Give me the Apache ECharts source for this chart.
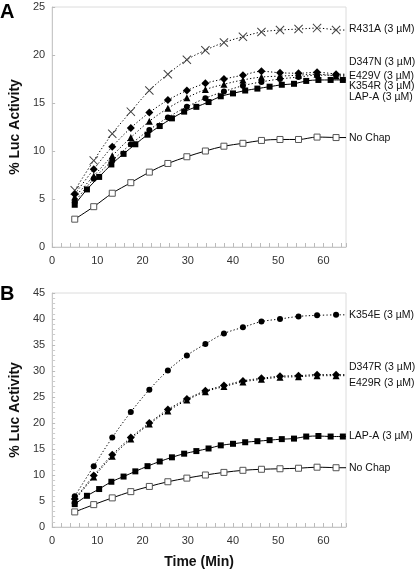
<!DOCTYPE html>
<html><head><meta charset="utf-8">
<script src="https://cdn.jsdelivr.net/npm/echarts@6/dist/echarts.min.js"></script>
<style>html,body{margin:0;padding:0;background:#fff}#c{width:416px;height:570px}</style>
</head><body><div id="c"></div>
<script>
// time points (min)
var tSparse = [5, 9.2, 13.3, 17.4, 21.5, 25.6, 29.8, 33.9, 38, 42.2, 46.3, 50.4, 54.5, 58.6, 62.8];
var tDense = [5, 7.7, 10.4, 13.1, 15.8, 18.4, 21.1, 23.8, 26.5, 29.2, 31.9, 34.6, 37.3, 40.0, 42.7, 45.4, 48.1, 50.8, 53.5, 56.2, 58.9, 61.6, 64.3];
var xTicks = [0, 10, 20, 30, 40, 50, 60];
var yTicksA = [0, 5, 10, 15, 20, 25];
var yTicksB = [0, 5, 10, 15, 20, 25, 30, 35, 40, 45];

// Panel A
var A_noChap = [2.9, 4.2, 5.6, 6.7, 7.8, 8.7, 9.4, 10.0, 10.5, 10.8, 11.1, 11.2, 11.2, 11.45, 11.4];
var A_lapA = [4.4, 6.0, 7.3, 8.6, 9.7, 10.7, 11.7, 12.6, 13.4, 14.1, 14.6, 15.1, 15.7, 16.0, 16.3, 16.5, 16.7, 16.9, 17.0, 17.3, 17.4, 17.4, 17.4];
var A_r431a = [5.9, 9.0, 11.8, 14.1, 16.3, 18.0, 19.5, 20.5, 21.3, 21.9, 22.4, 22.6, 22.7, 22.8, 22.6];
var A_d347n = [5.5, 8.1, 10.45, 12.4, 14.0, 15.3, 16.3, 17.05, 17.5, 17.9, 18.3, 18.15, 18.1, 18.2, 18.0];
var A_e429v = [5.2, 7.4, 9.5, 11.4, 13.1, 14.45, 15.55, 16.4, 16.95, 17.4, 17.7, 17.8, 17.9, 18.0, 17.8];
var A_k354r = [4.7, 7.1, 9.0, 10.7, 12.2, 13.5, 14.6, 15.5, 16.2, 16.8, 17.2, 17.5, 17.7, 17.9, 17.9];

// Panel B
var B_noChap = [2.9, 4.3, 5.6, 6.8, 7.8, 8.7, 9.4, 10.0, 10.5, 10.9, 11.1, 11.2, 11.3, 11.5, 11.4];
var B_lapA = [4.4, 6.0, 7.3, 8.7, 9.7, 10.7, 11.7, 12.6, 13.4, 14.1, 14.6, 15.1, 15.7, 16.0, 16.3, 16.5, 16.7, 16.9, 17.0, 17.4, 17.5, 17.4, 17.4];
var B_k354e = [5.9, 11.7, 17.2, 22.1, 26.4, 30.1, 33.0, 35.2, 37.2, 38.4, 39.5, 40.0, 40.5, 40.7, 40.8];
var B_d347r = [5.4, 9.9, 13.9, 17.2, 20.0, 22.6, 24.6, 26.2, 27.2, 28.1, 28.6, 29.0, 29.1, 29.3, 29.3];
var B_e429r = [5.2, 9.6, 13.6, 16.9, 19.8, 22.3, 24.4, 26.0, 27.0, 27.9, 28.4, 28.8, 28.9, 29.1, 29.1];

var X_MAX = 65;
var FONT = '"Liberation Sans", Arial, sans-serif';
var XMARK = 'path://M0,0.8 L0.8,0 L5,4.2 L9.2,0 L10,0.8 L5.8,5 L10,9.2 L9.2,10 L5,5.8 L0.8,10 L0,9.2 L4.2,5 Z';

function pairs(xs, ys) { return ys.map(function (v, i) { return [xs[i], v]; }); }

var series = [];
function addSeries(gi, name, xs, ys, sym, size, dashed, col, labelDy, fill) {
  var data = pairs(xs, ys);
  series.push({
    type: 'line', name: name, xAxisIndex: gi, yAxisIndex: gi, data: data,
    smooth: 0.35, symbol: sym, symbolSize: size, showSymbol: true,
    lineStyle: { color: '#000', width: 1, type: dashed ? [1.3, 2.2] : 'solid' },
    itemStyle: fill === 'empty' ? { color: '#fff', borderColor: '#555', borderWidth: 1 } : { color: col, borderColor: col, borderWidth: 0 },
    z: 3, animation: false
  });
  // leader continuing to the right edge, carrying the label
  var last = data[data.length - 1];
  series.push({
    type: 'line', xAxisIndex: gi, yAxisIndex: gi, data: [last, [X_MAX, last[1]]],
    symbol: 'none', silent: true, z: 2, animation: false,
    lineStyle: { color: '#000', width: 1, type: dashed ? [1.3, 2.2] : 'solid' },
    endLabel: { show: true, formatter: name, distance: 3, offset: [0, labelDy], color: '#111', fontSize: 10.5, fontFamily: FONT },
    clip: false
  });
}

// Panel A
addSeries(0, 'R431A (3 µM)', tSparse, A_r431a, XMARK, 9, true, '#444', -1);
addSeries(0, 'D347N (3 µM)', tSparse, A_d347n, 'diamond', 8, true, '#000', -12);
addSeries(0, 'E429V (3 µM)', tSparse, A_e429v, 'triangle', 7, true, '#000', 0);
addSeries(0, 'K354R (3 µM)', tSparse, A_k354r, 'circle', 6, true, '#000', 11);
addSeries(0, 'LAP-A (3 µM)', tDense, A_lapA, 'rect', 6, false, '#000', 17);
addSeries(0, 'No Chap', tSparse, A_noChap, 'rect', 6, false, '#000', 1, 'empty');
// Panel B
addSeries(1, 'K354E (3 µM)', tSparse, B_k354e, 'circle', 6, true, '#000', 0);
addSeries(1, 'D347R (3 µM)', tSparse, B_d347r, 'diamond', 8, true, '#000', -8);
addSeries(1, 'E429R (3 µM)', tSparse, B_e429r, 'triangle', 7, true, '#000', 7);
addSeries(1, 'LAP-A (3 µM)', tDense, B_lapA, 'rect', 6, false, '#000', 0);
addSeries(1, 'No Chap', tSparse, B_noChap, 'rect', 6, false, '#000', 0, 'empty');

function xAxis(gi, name) {
  return {
    type: 'value', gridIndex: gi, min: 0, max: X_MAX, interval: 10,
    name: name || '', nameLocation: 'middle', nameGap: 28,
    nameTextStyle: { fontFamily: FONT, fontWeight: 'bold', fontSize: 14, color: '#111' },
    axisLine: { lineStyle: { color: '#c8c8c8' } },
    axisTick: { show: true, inside: true, length: 4, lineStyle: { color: '#bbb' } },
    minorTick: { show: true, splitNumber: 5, length: 4, lineStyle: { color: '#bbb' } },
    splitLine: { show: false },
    axisLabel: { fontFamily: FONT, fontSize: 11, color: '#333', margin: 8,
      formatter: function (v) { return xTicks.indexOf(v) >= 0 ? String(v) : ''; } }
  };
}
function yAxis(gi, max, ticks, minor) {
  return {
    type: 'value', gridIndex: gi, min: 0, max: max, interval: 5,
    name: '% Luc Activity', nameLocation: 'middle', nameGap: 25, nameRotate: 90,
    nameTextStyle: { fontFamily: FONT, fontWeight: 'bold', fontSize: 14, color: '#111' },
    axisLine: { show: true, lineStyle: { color: '#c8c8c8' } },
    axisTick: { show: true, inside: true, length: 3, lineStyle: { color: '#bbb' } },
    minorTick: { show: minor, splitNumber: 5, length: 3, lineStyle: { color: '#ccc' } },
    splitLine: { show: false },
    axisLabel: { fontFamily: FONT, fontSize: 11, color: '#333', margin: 7,
      formatter: function (v) { return ticks.indexOf(v) >= 0 ? String(v) : ''; } }
  };
}

var option = {
  backgroundColor: '#fff',
  animation: false,
  grid: [
    { left: 43, top: 7, width: 303, height: 240, show: true, borderColor: '#dcdcdc', borderWidth: 1, backgroundColor: 'transparent' },
    { left: 43, top: 293, width: 303, height: 235, show: true, borderColor: '#dcdcdc', borderWidth: 1, backgroundColor: 'transparent' }
  ],
  xAxis: [xAxis(0), xAxis(1, 'Time (Min)')],
  yAxis: [yAxis(0, 25, yTicksA, false), yAxis(1, 45, yTicksB, true)],
  graphic: [
    { type: 'text', left: 0, top: 2, style: { text: 'A', fontFamily: FONT, fontWeight: 'bold', fontSize: 20, fill: '#000' } },
    { type: 'text', left: 0, top: 284, style: { text: 'B', fontFamily: FONT, fontWeight: 'bold', fontSize: 20, fill: '#000' } }
  ],
  series: series
};
var chart = echarts.init(document.getElementById('c'), null, { renderer: 'canvas' });
chart.setOption(option);
</script></body></html>
